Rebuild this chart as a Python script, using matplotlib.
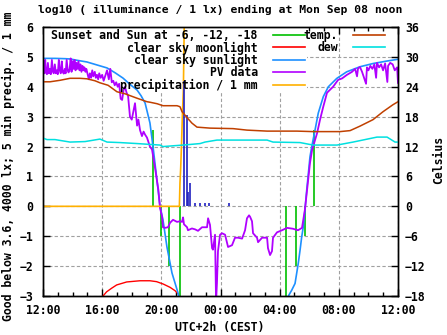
import matplotlib
matplotlib.use("Agg")
import matplotlib.pyplot as plt
from matplotlib.patches import Rectangle
from matplotlib.ticker import MultipleLocator

plt.rcParams['font.family'] = ['DejaVu Sans Mono']
plt.rcParams['font.weight'] = 'bold'
plt.rcParams['font.size'] = 8.3

# hours after 12:00 (Sep 07) ... 12:00 (Sep 08)
sun_hours = [0.0, 0.81, 1.49, 1.83, 2.37, 2.97, 3.65, 4.33, 4.87, 5.41, 5.88, 6.36, 6.63,
             6.9, 7.23, 7.44, 7.91, 8.11, 8.38, 8.72, 9.13, 9.2]
sun_vals = [4.95, 4.95, 4.94, 4.93, 4.88, 4.83, 4.73, 4.63, 4.47, 4.29, 4.08, 3.89, 3.70,
            3.46, 2.79, 1.99, 0.0, -0.45, -1.36, -2.23, -2.9, -3.05]
rise_hours = [16.59, 16.82, 17.04, 17.26, 17.38, 17.49, 17.6, 17.71, 17.83, 17.94, 18.05,
              18.17, 18.39, 18.61, 18.95, 19.29, 19.86, 20.53, 21.43, 22.33, 23.24, 24.0]
rise_vals = [-3.0, -2.8, -2.58, -1.9, -1.46, -1.02, -0.68, -0.12, 0.55, 1.1, 1.66,
             2.0, 2.55, 3.12, 3.67, 4.0, 4.28, 4.5, 4.67, 4.78, 4.86, 4.92]

moon_hours = [4.06, 4.3, 4.64, 4.98, 5.66, 6.56, 7.23, 7.68, 8.13, 8.59, 8.92, 9.15]
moon_vals = [-3.0, -2.86, -2.74, -2.63, -2.53, -2.49, -2.49, -2.52, -2.6, -2.71, -2.82, -2.94]

# sunset / -6 / -12 / -18 and the same at dawn
twilight_hours = [7.42, 7.97, 8.52, 9.28, 16.43, 17.11, 17.7, 18.32]
twilight_vals = [2.55, -1, -2, -3, -3, -2, -1, 2.55]

pv_hours = [0.0, 0.05, 0.1, 0.15, 0.2, 0.27, 0.33, 0.4, 0.47, 0.53, 0.6, 0.67, 0.73, 0.8,
            0.87, 0.93, 1.0, 1.07, 1.13, 1.2, 1.27, 1.33, 1.4, 1.47, 1.53, 1.6, 1.67, 1.73,
            1.8, 1.87, 1.93, 2.0, 2.07, 2.13, 2.2, 2.27, 2.33, 2.4, 2.47, 2.53, 2.6, 2.67,
            2.73, 2.8, 2.87, 2.93, 3.0, 3.1, 3.17, 3.25, 3.33, 3.4, 3.5, 3.57, 3.65, 3.73,
            3.8, 3.9, 4.0, 4.1, 4.2, 4.33, 4.45, 4.55, 4.65, 4.75, 4.85, 4.95, 5.05, 5.15,
            5.25, 5.35, 5.45, 5.54, 5.65, 5.75, 5.88, 6.0, 6.08, 6.22, 6.36, 6.45, 6.56,
            6.69, 6.8, 6.9, 7.03, 7.23, 7.37, 7.57, 7.8, 7.91, 8.05, 8.11, 8.25, 8.45, 8.59,
            8.79, 9.06, 9.26, 9.4, 9.47, 9.53, 9.74, 9.8, 10.07, 10.28, 10.48, 10.75, 11.09,
            11.16, 11.29, 11.43, 11.49, 11.63, 11.7, 11.76, 11.83, 11.97, 12.1, 12.31, 12.51,
            12.78, 12.98, 13.18, 13.46, 13.66, 13.79, 13.93, 14.0, 14.13, 14.2, 14.47, 14.54,
            14.81, 15.15, 15.21, 15.35, 15.48, 15.55, 15.82, 16.16, 16.5, 16.9, 17.24, 17.51,
            17.71, 17.85, 17.92, 18.05, 18.19, 18.26, 18.53, 18.73, 18.93, 19.2, 19.61, 19.95,
            20.22, 20.55, 20.89, 21.1, 21.23, 21.3, 21.43, 21.57, 21.84, 21.9, 22.0, 22.13,
            22.27, 22.4, 22.52, 22.58, 22.72, 22.86, 22.99, 23.13, 23.28, 23.33, 23.47, 23.64,
            23.78, 23.94, 24.0]
pv_vals = [4.55, 4.85, 4.45, 4.9, 4.5, 4.42, 4.8, 4.45, 4.6, 4.42, 4.9, 4.5, 4.45, 4.75,
           4.45, 4.55, 4.42, 4.9, 4.55, 4.45, 4.85, 4.5, 4.44, 4.6, 4.45, 4.9, 4.55, 4.48,
           4.6, 4.95, 4.5, 4.85, 4.6, 4.9, 4.55, 4.8, 4.6, 4.85, 4.55, 4.75, 4.5, 4.7,
           4.55, 4.65, 4.5, 4.6, 4.45, 4.25, 4.45, 4.3, 4.55, 4.35, 4.5, 4.3, 4.4, 4.25,
           4.45, 4.3, 4.4, 4.2, 4.35, 4.55, 4.25, 4.6, 4.15, 4.2, 4.05, 4.15, 4.0, 4.1,
           3.6, 3.56, 3.9, 4.0, 3.8, 3.7, 3.0, 2.9, 3.1, 3.45, 2.7, 2.9, 2.55,
           2.35, 2.5, 2.4, 2.3, 2.0, 1.9, 1.3, 0.55, -0.05, -0.35, -0.7, -0.72, -0.7, -0.55,
           -0.45, -0.52, -0.5, -0.52, -0.37, -0.6, -0.7, -0.8, -0.74, -0.77, -0.82, -0.7, -0.7,
           -0.4, -0.62, -1.4, -1.45, -0.95, -3.2, -2.57, -1.5, -0.95, -0.9, -0.95, -1.36,
           -1.3, -1.05, -1.05, -1.08, -0.8, -0.4, -0.3, -0.35, -0.5, -0.9, -1.05, -1.2,
           -1.05, -1.05, -1.4, -1.63, -1.5, -1.05, -0.87, -0.8, -0.72, -0.75, -0.8, -0.72,
           -0.1, 0.55, 0.88, 1.45, 1.88, 2.0, 2.45, 2.9, 3.3, 3.8, 4.0, 4.23,
           4.28, 4.4, 4.5, 4.6, 4.35, 4.62, 4.66, 4.5, 4.1, 4.65, 4.55, 4.7,
           4.6, 4.75, 4.3, 4.8, 4.65, 4.75, 4.55, 4.78, 4.16, 4.7, 4.8, 4.75,
           4.55, 4.65, 4.13]

precip_hours = [0.0, 9.22, 9.26, 9.31, 9.36, 9.42, 9.49, 9.56, 9.94, 24.0]
precip_vals = [0.0, 0.0, 0.78, 1.3, 2.0, 3.0, 3.9, 6.5, 8.5, 9.0]

rain5_hours = [9.55, 9.76, 9.82, 9.94, 10.28, 10.62, 10.92, 11.22, 12.6]
rain5_vals = [4.2, 3.06, 0.48, 0.78, 0.12, 0.12, 0.12, 0.12, 0.1]

temp_hours = [0.0, 0.47, 1.15, 1.83, 2.5, 2.97, 3.52, 3.85, 4.4, 5.0, 5.54, 6.36, 7.03,
              7.23, 7.71, 8.11, 9.06, 9.26, 9.4, 9.6, 9.74, 10.07, 10.41, 11.29, 12.85,
              13.79, 15.15, 16.23, 17.17, 18.26, 20.08, 20.76, 21.43, 22.31, 22.99, 23.66, 24.0]
temp_vals = [25.0, 25.0, 25.3, 25.7, 25.7, 25.6, 25.2, 24.8, 24.3, 23.0, 22.6, 21.7, 21.0,
             20.9, 20.6, 20.2, 20.2, 20.0, 19.0, 18.3, 17.8, 16.7, 15.9, 15.7, 15.6,
             15.3, 15.1, 15.1, 15.1, 15.0, 15.0, 15.2, 16.1, 17.4, 19.0, 20.4, 21.0]

dew_hours = [0.0, 0.27, 0.81, 1.83, 2.84, 3.85, 4.33, 5.2, 6.36, 7.91, 8.11, 9.47, 10.62,
             10.95, 11.76, 15.15, 15.55, 17.38, 18.26, 19.88, 20.96, 22.58, 23.26, 23.8, 24.0]
dew_vals = [13.7, 13.4, 13.4, 12.9, 13.0, 13.5, 12.9, 12.8, 12.6, 12.3, 12.0, 12.3, 12.6,
            12.9, 13.3, 13.3, 12.9, 12.8, 12.3, 12.3, 12.9, 13.9, 13.9, 12.9, 12.9]

hour_ticks = [0, 4, 8, 12, 16, 20, 24]
hour_labels = ['12:00', '16:00', '20:00', '00:00', '04:00', '08:00', '12:00']

fig = plt.figure(figsize=(4.47, 3.35), dpi=100)
ax = fig.add_axes([43 / 447, 1 - 296 / 335, 355 / 447, 269 / 335])
ax2 = ax.twinx()

ax.set_xlim(0, 24)
ax.set_ylim(-3, 6)
ax2.set_ylim(-18, 36)
ax.set_xticks(hour_ticks)
ax.set_xticklabels(hour_labels)
ax.xaxis.set_minor_locator(MultipleLocator(1))
ax.yaxis.set_major_locator(MultipleLocator(1))
ax2.yaxis.set_major_locator(MultipleLocator(6))
ax.tick_params(which='both', direction='in', top=True, right=False)
ax.tick_params(which='major', length=5, width=1)
ax.tick_params(which='minor', length=3, width=1)
ax.tick_params(axis='x', pad=6)
ax.tick_params(axis='y', pad=7)
ax2.tick_params(direction='in', length=5, width=1, pad=5)
for a in (ax, ax2):
    for s in a.spines.values():
        s.set_linewidth(1)
ax.grid(True, color='#a0a0a0', linestyle=(0, (3, 2)), linewidth=0.8)
ax.set_axisbelow(True)
# the key area blanks the grid behind it
ax.add_patch(Rectangle((0, 0.762), 0.744, 0.238, transform=ax.transAxes,
                       facecolor='white', edgecolor='none', zorder=0.8))

ax.vlines(twilight_hours, 0, twilight_vals, color='#00c000', lw=1.2)
ax.plot(moon_hours, moon_vals, color='#ff0000', lw=1)
ax.plot(sun_hours, sun_vals, color='#1e90ff', lw=1.2)
ax.plot(rise_hours, rise_vals, color='#1e90ff', lw=1.2)
ax.plot(pv_hours, pv_vals, color='#b000ff', lw=1.3)
ax.plot(precip_hours, precip_vals, color='#ffb000', lw=1.2)
ax.vlines(rain5_hours, 0, rain5_vals, color='#2020c0', lw=1.2)

ax2.plot(temp_hours, temp_vals, color='#c04000', lw=1.1)
ax2.plot(dew_hours, dew_vals, color='#00e0e0', lw=1.1)

# legend samples
h1 = [plt.Line2D([], [], color=c, lw=1.2) for c in
      ['#00c000', '#ff0000', '#1e90ff', '#b000ff', '#ffb000']]
l1 = ['Sunset and Sun at -6, -12, -18', 'clear sky moonlight', 'clear sky sunlight',
      'PV data', 'precipitation / 1 mm']
h2 = [plt.Line2D([], [], color=c, lw=1.2) for c in ['#c04000', '#00e0e0']]
l2 = ['temp.', 'dew']
leg1 = ax2.legend(h1, l1, loc='upper right', bbox_to_anchor=(305 / 447, 1 - 29 / 335),
                  bbox_transform=fig.transFigure, frameon=False, markerfirst=False,
                  borderpad=0, borderaxespad=0, handlelength=2.8, handletextpad=1.3,
                  labelspacing=-0.05)
ax2.add_artist(leg1)
ax2.legend(h2, l2, loc='upper right', bbox_to_anchor=(385 / 447, 1 - 29 / 335),
           bbox_transform=fig.transFigure, frameon=False, markerfirst=False,
           borderpad=0, borderaxespad=0, handlelength=2.8, handletextpad=1.3,
           labelspacing=-0.05)

fig.text(220 / 447, 1 - 10 / 335, 'log10 ( illuminance / 1 lx) ending at Mon Sep 08 noon',
         ha='center', va='center', fontsize=8.2)
fig.text(8 / 447, 1 - 166 / 335, 'Good below 3.6, 4000 lx; 5 min precip. / 1 mm',
         ha='center', va='center', rotation=90)
fig.text(439 / 447, 1 - 160 / 335, 'Celsius', ha='center', va='center', rotation=90)
fig.text(220 / 447, 1 - 327 / 335, 'UTC+2h (CEST)', ha='center', va='center')

fig.savefig('out.png', dpi=100)
